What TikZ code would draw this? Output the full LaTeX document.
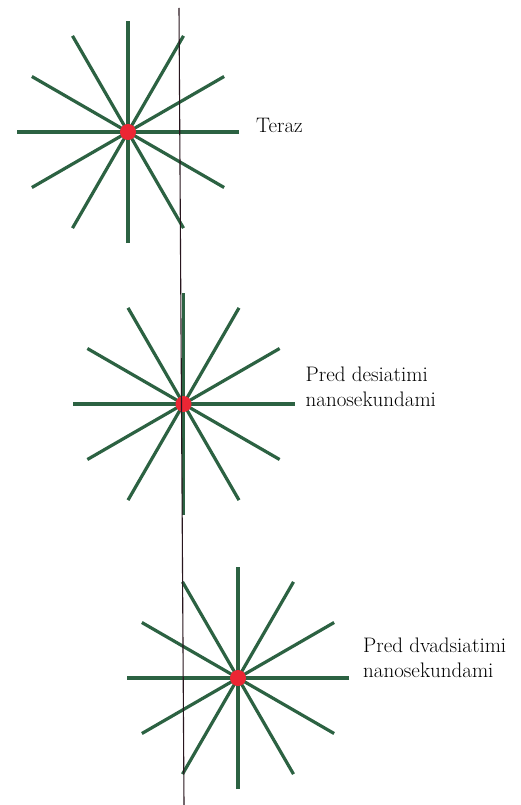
\documentclass[tikz,border=0pt]{standalone}
\usepackage{fontspec}
\usetikzlibrary{calc}
\definecolor{raygreen}{RGB}{44,98,66}
\definecolor{dotred}{RGB}{236,38,52}
\definecolor{linedark}{RGB}{40,22,30}
\begin{document}
\begin{tikzpicture}[x=1pt,y=-1pt,
  ray/.style={draw=raygreen,line width=3.2pt},
  dot/.style={circle,fill=dotred,minimum size=16pt,inner sep=0pt},
  lbl/.style={anchor=base west,font=\fontsize{21}{24.5}\selectfont,align=left,inner sep=0pt},
  worldline/.style={draw=linedark,line width=1.1pt}]
\useasboundingbox (0,0) rectangle (521,805);
\fill[white] (0,0) rectangle (521,805);
% star centres
\coordinate (c1) at (128,132);
\coordinate (c2) at (183.5,404);
\coordinate (c3) at (238,678);
\foreach \c in {c1,c2,c3}{
  \foreach \a in {0,30,...,150}{
    \draw[ray] ($(\c)+(\a:111)$) -- ($(\c)+(\a+180:111)$);
  }
}
\node[dot] (d1) at (c1) {};
\node[dot] (d2) at (c2) {};
\node[dot] (d3) at (c3) {};
\coordinate (top) at (179,8);
\coordinate (bot) at (184,805);
\draw[worldline] (top) -- (bot);
\node[lbl] (t1) at (256,133) {Teraz};
\node[lbl] (t2) at (305.5,406) {Pred desiatimi\\nanosekundami};
\node[lbl] (t3) at (363,677) {Pred dvadsiatimi\\nanosekundami};
\end{tikzpicture}
\end{document}
